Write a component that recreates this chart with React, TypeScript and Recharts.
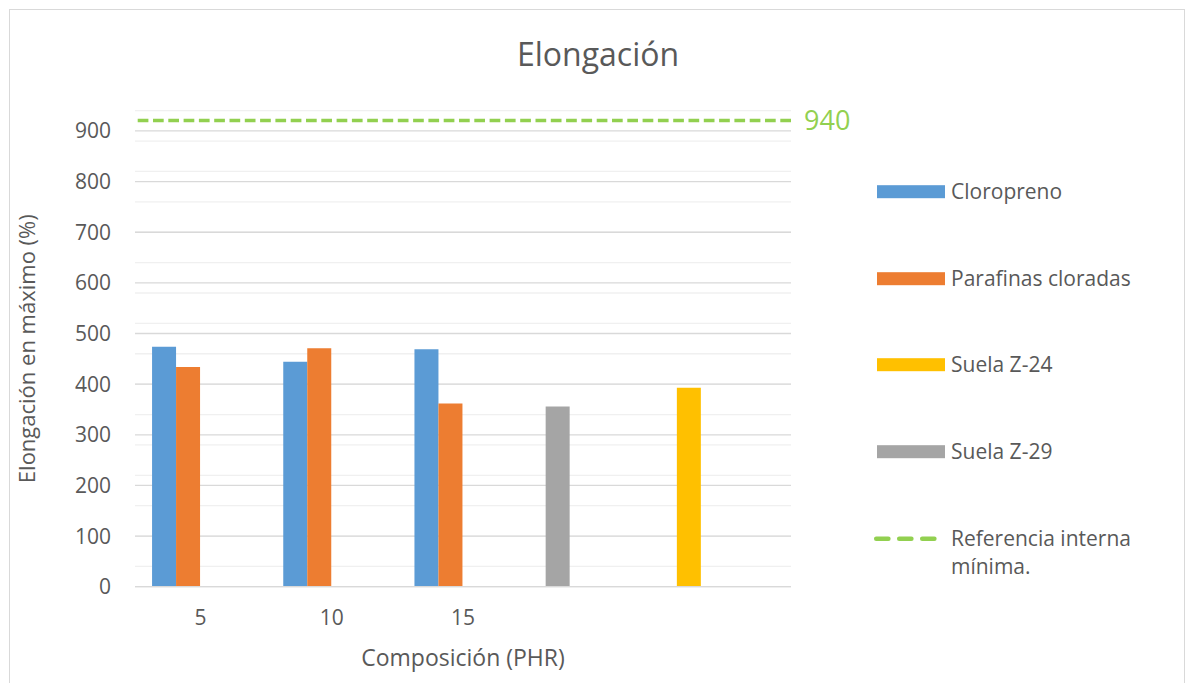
import React from 'react';
import {
  BarChart,
  Bar,
  XAxis,
  YAxis,
  CartesianGrid,
  ReferenceLine,
} from 'recharts';

// Categories on the horizontal axis (PHR); the last two hold the reference soles
const categories = ['5', '10', '15', '', ''];

// Elongation at maximum (%) for each series
const cloropreno = [474, 444, 469, null, null];
const parafinasCloradas = [434, 471, 362, null, null];
const suelaZ24 = [null, null, null, null, 393];
const suelaZ29 = [null, null, null, 356, null];

// Internal minimum reference, plotted against its own (hidden) axis
const referenciaMinima = 940;

const yTicks = [0, 100, 200, 300, 400, 500, 600, 700, 800, 900];
const majorGrid = [0, 100, 200, 300, 400, 500, 600, 700, 800, 900];
const minorGrid = [
  0, 20, 40, 60, 80, 100, 120, 140, 160, 180, 200, 220, 240, 260, 280, 300, 320,
  340, 360, 380, 400, 420, 440, 460, 480, 500, 520, 540, 560, 580, 600, 620, 640,
  660, 680, 700, 720, 740, 760, 780, 800, 820, 840, 860, 880, 900, 920, 940,
];

const COLORS = {
  cloropreno: '#5b9bd5',
  parafinas: '#ed7d31',
  z24: '#ffc000',
  z29: '#a5a5a5',
  ref: '#92d050',
  text: '#595959',
};

const data = categories.map((cat, i) => ({
  cat,
  cloropreno: cloropreno[i],
  parafinas: parafinasCloradas[i],
  z24: suelaZ24[i],
  z29: suelaZ29[i],
}));

const legendItems = [
  { name: 'Cloropreno', color: COLORS.cloropreno, kind: 'bar' },
  { name: 'Parafinas cloradas', color: COLORS.parafinas, kind: 'bar' },
  { name: 'Suela Z-24', color: COLORS.z24, kind: 'bar' },
  { name: 'Suela Z-29', color: COLORS.z29, kind: 'bar' },
  { name: 'Referencia interna mínima.', color: COLORS.ref, kind: 'line' },
];

const FONT = "'Open Sans', sans-serif";

function LegendBox() {
  return (
    <div
      style={{
        position: 'absolute',
        left: 872,
        top: 148,
        width: 300,
        fontFamily: FONT,
        fontSize: 21,
        color: COLORS.text,
      }}
    >
      {legendItems.map((it) => (
        <div key={it.name} style={{ position: 'relative', height: 86.7 }}>
          <svg width={76} height={87} style={{ position: 'absolute', left: 0, top: 0 }}>
            {it.kind === 'bar' ? (
              <rect x={5} y={37.2} width={68} height={13} fill={it.color} />
            ) : (
              <line
                x1={4.2}
                x2={62.4}
                y1={43.7}
                y2={43.7}
                stroke={it.color}
                strokeWidth={4.5}
                strokeDasharray="12.2 10.8"
                strokeLinecap="round"
              />
            )}
          </svg>
          <div
            style={{
              position: 'absolute',
              left: 79,
              top: 29,
              width: 200,
              lineHeight: '28.4px',
            }}
          >
            {it.name === 'Referencia interna mínima.' ? (
              <>
                Referencia interna
                <br />
                mínima.
              </>
            ) : (
              it.name
            )}
          </div>
        </div>
      ))}
    </div>
  );
}

export default function App() {
  return (
    <div
      style={{
        position: 'absolute',
        left: 0,
        top: 0,
        width: 1187,
        height: 683,
        overflow: 'hidden',
        background: '#ffffff',
        fontFamily: FONT,
      }}
    >
      <div
        style={{
          position: 'absolute',
          left: 8.5,
          top: 8.5,
          width: 1176,
          height: 720,
          border: '1.5px solid #d9d9d9',
          boxSizing: 'border-box',
        }}
      />
      <div
        style={{
          position: 'absolute',
          left: 0,
          width: 1196,
          top: 34,
          textAlign: 'center',
          fontSize: 32,
          color: COLORS.text,
          lineHeight: '40px',
        }}
      >
        Elongación
      </div>
      <div style={{ position: 'absolute', left: 0, top: 0 }}>
        <BarChart
          width={1187}
          height={683}
          data={data}
          margin={{ top: 110.7, right: 396, bottom: 0, left: 0 }}
          barCategoryGap="13%"
          barGap={0}
        >
          <CartesianGrid
            vertical={false}
            horizontalValues={minorGrid}
            stroke="#f0f0f0"
            strokeWidth={1.3}
          />
          <CartesianGrid
            vertical={false}
            horizontalValues={majorGrid}
            stroke="#d9d9d9"
            strokeWidth={1.3}
          />
          <XAxis
            dataKey="cat"
            height={96.3}
            tickLine={false}
            tickSize={0}
            tickMargin={23}
            axisLine={{ stroke: '#d9d9d9', strokeWidth: 1.3 }}
            tick={{ fill: COLORS.text, fontSize: 21 }}
            label={{
              value: 'Composición (PHR)',
              position: 'insideBottom',
              offset: 17,
              fill: COLORS.text,
              fontSize: 23,
            }}
          />
          <YAxis
            width={135}
            domain={[0, 940]}
            ticks={yTicks}
            allowDataOverflow
            axisLine={false}
            tickLine={false}
            tickSize={0}
            tickMargin={24}
            tick={{ fill: COLORS.text, fontSize: 21 }}
            label={{
              value: 'Elongación en máximo (%)',
              angle: -90,
              position: 'insideLeft',
              offset: 27,
              textAnchor: 'middle',
              fill: COLORS.text,
              fontSize: 22,
            }}
          />
          <YAxis
            yAxisId="referencia"
            orientation="right"
            width={0}
            tick={false}
            axisLine={false}
            tickLine={false}
            domain={[0, 960]}
            allowDataOverflow
          />
          <Bar dataKey="cloropreno" stackId="s1" fill={COLORS.cloropreno} isAnimationActive={false} />
          <Bar dataKey="z29" stackId="s1" fill={COLORS.z29} isAnimationActive={false} />
          <Bar dataKey="z24" stackId="s1" fill={COLORS.z24} isAnimationActive={false} />
          <Bar dataKey="parafinas" stackId="s2" fill={COLORS.parafinas} isAnimationActive={false} />
          {/* the two remaining cluster slots stay empty */}
          <Bar dataKey="slot3" stackId="s3" fill="none" legendType="none" isAnimationActive={false} />
          <Bar dataKey="slot4" stackId="s4" fill="none" legendType="none" isAnimationActive={false} />
          <ReferenceLine
            yAxisId="referencia"
            y={referenciaMinima}
            ifOverflow="visible"
            stroke={COLORS.ref}
            strokeWidth={3.5}
            strokeDasharray="10.7 4.6"
            label={{
              value: String(referenciaMinima),
              position: 'right',
              offset: 13,
              fill: COLORS.ref,
              fontSize: 27,
            }}
          />
        </BarChart>
      </div>
      <LegendBox />
    </div>
  );
}
